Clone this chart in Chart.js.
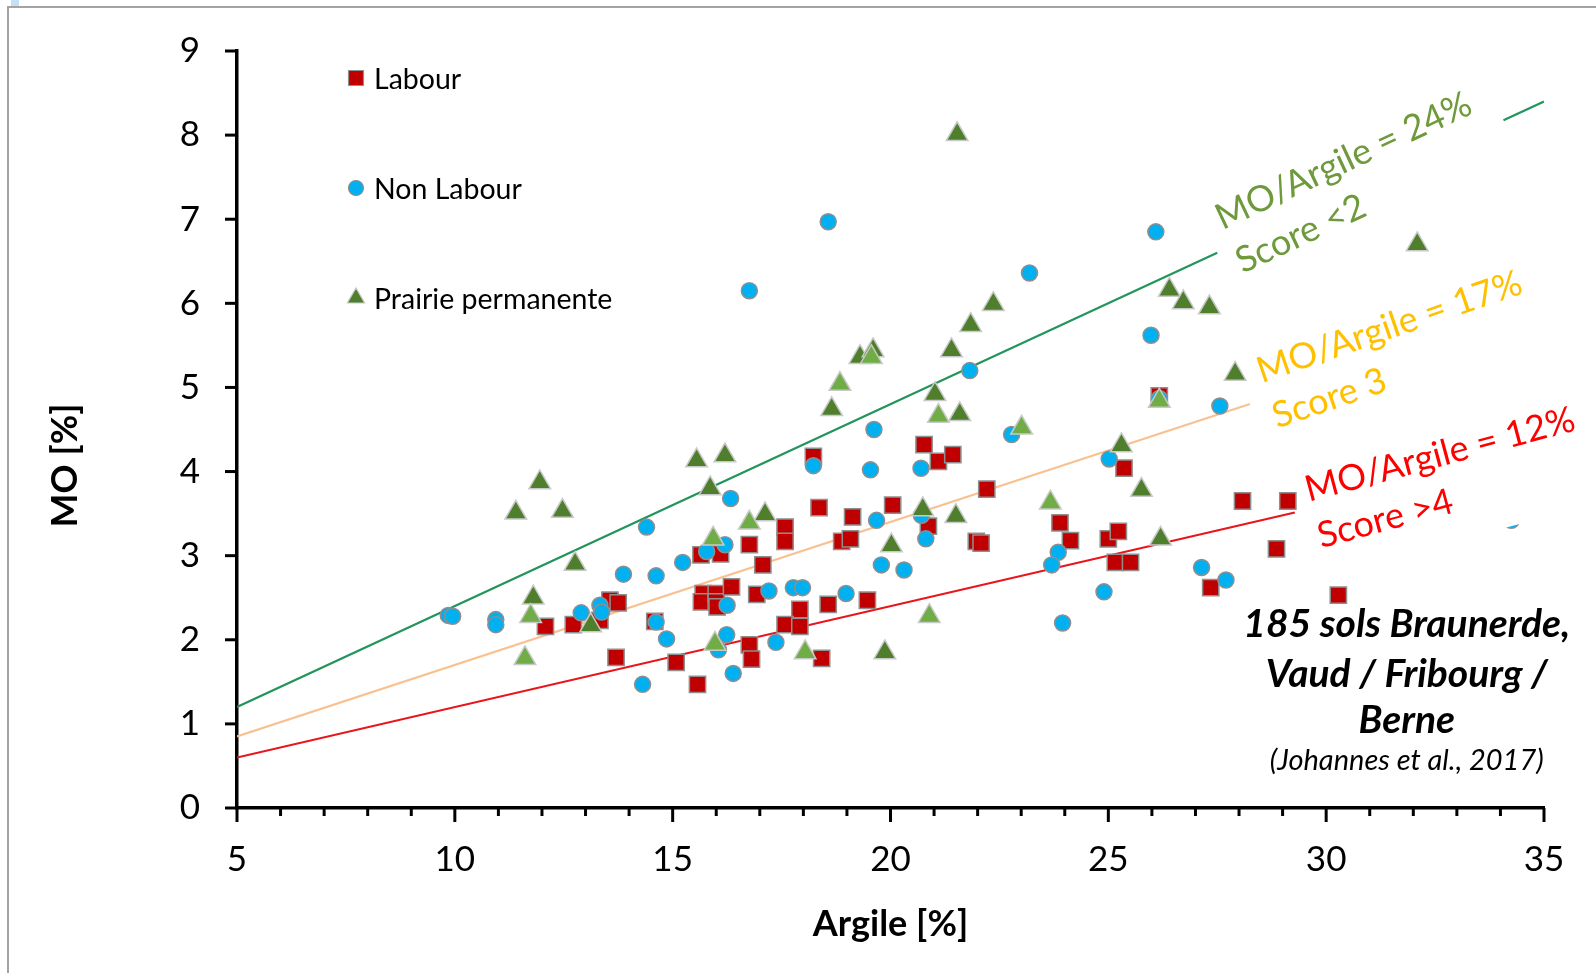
<!DOCTYPE html>
<html>
<head>
<meta charset="utf-8">
<title>MO / Argile</title>
<script src="https://cdn.jsdelivr.net/npm/chart.js@4.4.0/dist/chart.umd.min.js"></script>
<style>
  html, body { margin: 0; padding: 0; background: #fff; }
  #wrap { position: relative; width: 1596px; height: 973px; overflow: hidden; }
  #frame { position: absolute; left: 7px; top: 6px; right: -4px; bottom: -4px; border-left: 2px solid #a3a3a3; border-top: 2px solid #a3a3a3; }
  #corner { position: absolute; left: 11px; top: 0; width: 8px; height: 6px; background: #c4e2f7; }
  canvas { position: absolute; left: 0; top: 0; }
</style>
</head>
<body>
<div id="wrap">
  <div id="frame"></div>
  <div id="corner"></div>
  <canvas id="chart1" width="1596" height="973"></canvas>
</div>
<script>
// Labour (carrés rouges)
const labourArgile = [12.08, 12.72, 13.56, 13.75, 13.33, 14.59, 13.70, 15.08, 15.57, 15.65, 16.10, 15.70, 15.66, 16.00, 16.00, 16.02,
  18.23, 20.77, 21.10, 21.43, 22.21, 18.36, 20.05, 19.13, 17.58, 17.58, 16.76, 18.88, 19.08, 20.87, 21.97, 22.08,
  17.07, 16.35, 16.93, 18.57, 19.47, 17.92, 17.58, 17.92, 16.76, 16.81, 18.42, 26.17, 25.36, 28.08, 23.89, 24.13,
  25.00, 25.23, 25.16, 25.51, 27.35, 29.12, 28.86, 30.28];
const labourMO = [2.16, 2.18, 2.47, 2.44, 2.23, 2.22, 1.79, 1.73, 1.47, 3.01, 3.02, 2.55, 2.45, 2.55, 2.45, 2.39,
  4.18, 4.32, 4.12, 4.20, 3.79, 3.57, 3.60, 3.46, 3.34, 3.17, 3.13, 3.17, 3.20, 3.35, 3.17, 3.15,
  2.89, 2.63, 2.54, 2.42, 2.47, 2.36, 2.18, 2.16, 1.94, 1.77, 1.78, 4.90, 4.04, 3.65, 3.39, 3.18,
  3.20, 3.29, 2.92, 2.92, 2.62, 3.65, 3.08, 2.53];

// Non Labour (ronds bleus)
const nonLabourArgile = [14.40, 9.85, 9.95, 10.94, 10.94, 13.87, 14.62, 15.23, 15.78, 12.90, 13.33, 13.37, 14.62, 14.86, 14.31,
  19.62, 18.23, 19.54, 20.70, 16.33, 20.71, 16.20, 19.68, 20.81, 19.79, 20.31, 16.25, 17.21, 17.77, 17.98,
  18.98, 16.24, 16.05, 17.37, 16.39, 26.09, 23.19, 21.82, 25.98, 26.17, 27.56, 22.78, 25.02, 23.85, 23.70,
  27.14, 27.70, 24.90, 23.95, 34.25, 18.57, 16.76];
const nonLabourMO = [3.34, 2.29, 2.28, 2.24, 2.18, 2.78, 2.76, 2.92, 3.05, 2.32, 2.41, 2.33, 2.21, 2.01, 1.47,
  4.50, 4.07, 4.02, 4.04, 3.68, 3.48, 3.13, 3.42, 3.20, 2.89, 2.83, 2.41, 2.58, 2.62, 2.62,
  2.55, 2.06, 1.88, 1.97, 1.60, 6.85, 6.36, 5.20, 5.62, 4.87, 4.78, 4.44, 4.15, 3.04, 2.89,
  2.86, 2.71, 2.57, 2.20, 3.42, 6.97, 6.15];

// Prairie permanente (triangles vert foncé / vert clair)
const prairieArgile = [11.95, 11.40, 12.47, 15.55, 16.20, 15.86, 12.76, 11.80, 13.12, 18.65, 21.02, 21.59, 17.12, 20.74, 21.50, 20.02,
  19.87, 22.36, 21.84, 21.40, 26.40, 26.72, 27.32, 27.91, 25.30, 25.76, 26.20, 32.09, 21.53, 19.30, 19.60];
const prairieMO = [3.87, 3.51, 3.53, 4.13, 4.19, 3.80, 2.90, 2.50, 2.17, 4.74, 4.92, 4.68, 3.49, 3.55, 3.47, 3.12,
  1.85, 5.99, 5.74, 5.44, 6.16, 6.01, 5.95, 5.16, 4.31, 3.78, 3.20, 6.70, 8.01, 5.36, 5.44];
const prairieClairArgile = [11.74, 11.61, 15.93, 15.97, 18.84, 21.10, 16.76, 18.04, 20.89, 26.17, 23.01, 23.67, 19.56];
const prairieClairMO = [2.28, 1.78, 3.20, 1.95, 5.04, 4.66, 3.39, 1.85, 2.28, 4.84, 4.52, 3.63, 5.36];

// droites MO/Argile et leurs tronçons visibles (en % d'argile)
const ratios = [0.24, 0.17, 0.12];
const ratioColors = ['#22955C', '#F9C18F', '#E8151D'];
const ratioSegments = [[[5, 27.5], [34.07, 35]], [[5, 28.25]], [[5, 29.28]]];

const xTicks = [5, 10, 15, 20, 25, 30, 35];
const yTicks = [0, 1, 2, 3, 4, 5, 6, 7, 8, 9];

const FONT = 'Lato, "Open Sans", sans-serif';

const toPoints = (xs, ys) => xs.map((x, i) => ({ x: x, y: ys[i] }));

const lineSets = [];
ratios.forEach((r, i) => {
  ratioSegments[i].forEach(seg => {
    lineSets.push({
      type: 'line',
      label: 'MO/Argile ' + Math.round(r * 100) + '%',
      data: seg.map(x => ({ x: x, y: r * x })),
      borderColor: ratioColors[i],
      borderWidth: 2.2,
      pointRadius: 0,
      fill: false,
      order: 10
    });
  });
});

const refLabels = [
  { lines: ['MO/Argile = 24%', 'Score <2'], x: 27.62, y: 6.87, angle: -25, color: '#6E9A3C' },
  { lines: ['MO/Argile = 17%', 'Score 3'], x: 28.52, y: 5.05, angle: -19, color: '#FFC000' },
  { lines: ['MO/Argile = 12%', 'Score >4'], x: 29.6, y: 3.64, angle: -15, color: '#FF0000', mask: true }
];

const sourceLines = [
  { text: '185 sols Braunerde,', font: 'italic bold 39px ' + FONT, y: 2.03 },
  { text: 'Vaud / Fribourg /', font: 'italic bold 39px ' + FONT, y: 1.44 },
  { text: 'Berne', font: 'italic bold 39px ' + FONT, y: 0.89 },
  { text: '(Johannes et al., 2017)', font: 'italic 29px ' + FONT, y: 0.45 }
];

const decor = {
  id: 'decor',
  afterDatasetsDraw(chart) {
    const { ctx, scales: { x, y } } = chart;
    ctx.save();
    // textes des droites
    refLabels.forEach(l => {
      ctx.save();
      ctx.translate(x.getPixelForValue(l.x), y.getPixelForValue(l.y));
      ctx.rotate(l.angle * Math.PI / 180);
      ctx.font = '36px ' + FONT;
      const w = Math.max(...l.lines.map(t => ctx.measureText(t).width));
      if (l.mask) {
        ctx.fillStyle = '#fff';
        ctx.fillRect(-6, -32, w + 14, 108);
      }
      ctx.fillStyle = l.color;
      ctx.textAlign = 'left';
      ctx.textBaseline = 'alphabetic';
      l.lines.forEach((t, i) => ctx.fillText(t, 0, i * 48));
      ctx.restore();
    });
    // source
    ctx.fillStyle = '#000';
    ctx.textAlign = 'center';
    ctx.textBaseline = 'alphabetic';
    sourceLines.forEach(s => {
      ctx.font = s.font;
      ctx.fillText(s.text, x.getPixelForValue(31.85), y.getPixelForValue(s.y));
    });
    ctx.restore();
  },
  afterDraw(chart) {
    const { ctx, chartArea, scales: { x, y } } = chart;
    ctx.save();
    // graduations
    ctx.strokeStyle = '#000';
    ctx.lineWidth = 3;
    for (let v = x.min; v <= x.max; v++) {
      const px = x.getPixelForValue(v);
      const len = v % 5 === 0 ? 14 : 8;
      ctx.beginPath();
      ctx.moveTo(px, chartArea.bottom);
      ctx.lineTo(px, chartArea.bottom + len);
      ctx.stroke();
    }
    yTicks.forEach(v => {
      const py = y.getPixelForValue(v);
      ctx.beginPath();
      ctx.moveTo(chartArea.left - 12, py);
      ctx.lineTo(chartArea.left, py);
      ctx.stroke();
    });
    // titre axe Y
    ctx.save();
    ctx.translate(65, (chartArea.top + chartArea.bottom) / 2 + 36);
    ctx.rotate(-Math.PI / 2);
    ctx.font = 'bold 36px ' + FONT;
    ctx.fillStyle = '#000';
    ctx.textAlign = 'center';
    ctx.textBaseline = 'middle';
    ctx.fillText('MO [%]', 0, 0);
    ctx.restore();
    // légende
    const items = ['Labour', 'Non Labour', 'Prairie permanente'];
    items.forEach((name, i) => {
      const ds = chart.data.datasets.find(d => d.label === name);
      const mx = chartArea.left + 119;
      const my = chartArea.top + 27 + i * 110;
      ctx.fillStyle = ds.backgroundColor;
      ctx.strokeStyle = ds.borderColor;
      ctx.lineWidth = 1.2;
      ctx.beginPath();
      if (ds.pointStyle === 'rect') {
        ctx.rect(mx - 7.5, my - 7.5, 15, 15);
      } else if (ds.pointStyle === 'circle') {
        ctx.arc(mx, my, 7.5, 0, Math.PI * 2);
      } else {
        ctx.moveTo(mx, my - 10);
        ctx.lineTo(mx + 8.7, my + 5);
        ctx.lineTo(mx - 8.7, my + 5);
        ctx.closePath();
      }
      ctx.fill();
      ctx.stroke();
      ctx.fillStyle = '#000';
      ctx.font = '28.5px ' + FONT;
      ctx.textAlign = 'left';
      ctx.textBaseline = 'alphabetic';
      ctx.fillText(name, mx + 18, my + 11);
    });
    ctx.restore();
  }
};

new Chart('chart1', {
  type: 'scatter',
  data: {
    datasets: [
      {
        label: 'Prairie permanente (clair)',
        data: toPoints(prairieClairArgile, prairieClairMO),
        pointStyle: 'triangle',
        pointRadius: 12.5,
        backgroundColor: '#70AD47',
        borderColor: '#c9c9c9',
        borderWidth: 1.5,
        order: 0
      },
      {
        label: 'Prairie permanente',
        data: toPoints(prairieArgile, prairieMO),
        pointStyle: 'triangle',
        pointRadius: 12.5,
        backgroundColor: '#4F7F2C',
        borderColor: '#c9c9c9',
        borderWidth: 1.5,
        order: 1
      },
      {
        label: 'Non Labour',
        data: toPoints(nonLabourArgile, nonLabourMO),
        pointStyle: 'circle',
        pointRadius: 8,
        backgroundColor: '#00B0F0',
        borderColor: '#8f8f8f',
        borderWidth: 1.5,
        order: 2
      },
      {
        label: 'Labour',
        data: toPoints(labourArgile, labourMO),
        pointStyle: 'rect',
        pointRadius: 11.5,
        backgroundColor: '#C00000',
        borderColor: '#8f8f8f',
        borderWidth: 1.5,
        order: 3
      },
      ...lineSets
    ]
  },
  options: {
    responsive: false,
    animation: false,
    events: [],
    layout: { padding: { left: 0, top: 51, right: 52, bottom: 0 } },
    plugins: {
      legend: { display: false },
      tooltip: { enabled: false }
    },
    scales: {
      x: {
        type: 'linear',
        min: 5,
        max: 35,
        afterFit: s => { s.height = 165; },
        afterBuildTicks: s => { s.ticks = xTicks.map(v => ({ value: v })); },
        grid: { display: false, drawTicks: false },
        border: { display: true, color: '#000', width: 3.5 },
        ticks: { padding: 31, color: '#000', font: { family: FONT, size: 35 } },
        title: {
          display: true,
          text: 'Argile [%]',
          color: '#000',
          font: { family: FONT, size: 36, weight: 'bold' },
          padding: { top: 0, bottom: 27 }
        }
      },
      y: {
        type: 'linear',
        min: 0,
        max: 9,
        afterFit: s => { s.width = 237; },
        afterBuildTicks: s => { s.ticks = yTicks.map(v => ({ value: v })); },
        grid: { display: true, drawOnChartArea: false, drawTicks: true, tickLength: 37, tickColor: 'rgba(0,0,0,0)' },
        border: { display: true, color: '#000', width: 3.5 },
        ticks: { padding: 0, color: '#000', font: { family: FONT, size: 35 } }
      }
    }
  },
  plugins: [decor]
});
</script>
</body>
</html>
